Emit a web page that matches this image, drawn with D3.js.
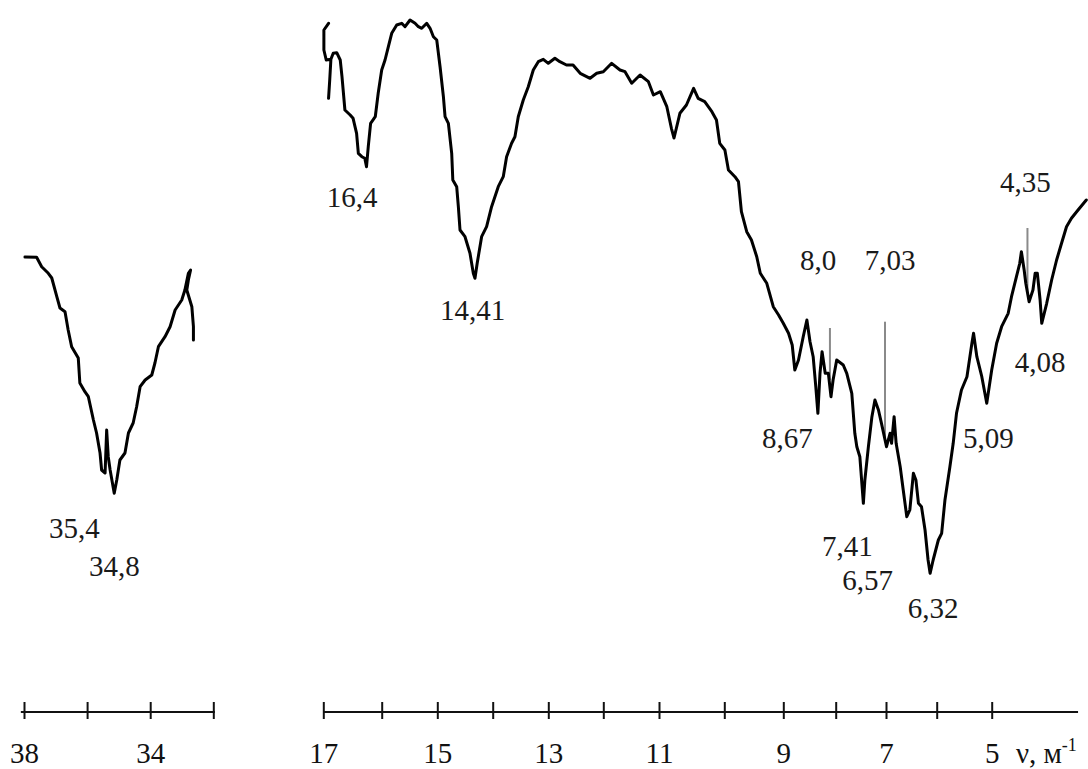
<!DOCTYPE html>
<html>
<head>
<meta charset="utf-8">
<script src="https://cdn.jsdelivr.net/npm/d3@7"></script>
<style>
  html, body { margin: 0; padding: 0; background: #fff; }
  svg { display: block; }
</style>
</head>
<body>
<svg width="1088" height="769"></svg>
<script>
// spectrum: [wavenumber ν, transmittance (arb. units)]
const leftSpectrum = [
  [37.97, 34.3], [37.60, 34.27], [37.44, 33.33], [37.23, 32.67], [37.12, 32.2],
  [36.96, 30.33], [36.86, 29.2], [36.70, 28.83], [36.60, 27.0], [36.49, 25.33],
  [36.28, 24.2], [36.23, 21.7], [36.07, 20.83], [35.96, 20.33], [35.80, 18.0],
  [35.70, 16.7], [35.59, 14.7], [35.54, 13.0], [35.43, 12.7], [35.38, 17.0],
  [35.33, 14.33], [35.27, 13.0], [35.14, 10.67], [35.06, 12.0], [34.96, 14.0],
  [34.80, 14.7], [34.69, 16.7], [34.54, 17.7], [34.43, 19.33], [34.32, 21.33],
  [34.16, 22.0], [33.95, 22.5], [33.85, 23.7], [33.74, 25.33], [33.53, 26.33],
  [33.37, 27.33], [33.21, 29.0], [33.00, 30.0], [32.90, 31.0], [32.79, 32.67],
  [32.72, 33.0], [32.79, 32.0], [32.84, 31.0], [32.68, 29.33], [32.63, 27.33],
  [32.63, 26.0]
];

const rightSpectrum = [
  [16.91, 57.67], [16.99, 57.0], [16.99, 55.0], [16.95, 54.0], [16.87, 54.07],
  [16.89, 52.0], [16.91, 50.17], [16.89, 52.0], [16.87, 54.07], [16.83, 54.67],
  [16.77, 54.73], [16.71, 54.0], [16.68, 52.33], [16.63, 49.0], [16.54, 48.5],
  [16.49, 48.17], [16.43, 46.67], [16.40, 44.67], [16.34, 44.33], [16.29, 44.17],
  [16.26, 43.33], [16.23, 45.33], [16.19, 47.67], [16.11, 48.33], [16.06, 50.67],
  [16.00, 53.0], [15.94, 54.0], [15.88, 55.33], [15.82, 56.67], [15.73, 57.5],
  [15.64, 57.67], [15.58, 57.33], [15.49, 58.0], [15.40, 57.67], [15.34, 57.33],
  [15.28, 57.17], [15.19, 57.67], [15.13, 57.17], [15.07, 56.33], [15.01, 56.0],
  [14.95, 53.33], [14.89, 50.33], [14.86, 48.33], [14.80, 47.67], [14.74, 44.67],
  [14.72, 42.0], [14.65, 41.33], [14.62, 39.33], [14.59, 37.0], [14.50, 36.33],
  [14.41, 34.67], [14.35, 32.67], [14.32, 32.17], [14.28, 33.67], [14.20, 36.33],
  [14.11, 37.33], [14.02, 39.33], [13.90, 41.33], [13.81, 42.33], [13.75, 44.33],
  [13.66, 45.67], [13.60, 46.33], [13.54, 48.33], [13.45, 50.0], [13.36, 51.33],
  [13.27, 53.0], [13.18, 53.83], [13.09, 54.07], [13.00, 53.67], [12.88, 54.17],
  [12.79, 53.83], [12.67, 53.5], [12.55, 53.5], [12.42, 52.67], [12.24, 52.17],
  [12.12, 52.67], [12.00, 52.83], [11.85, 53.67], [11.70, 53.0], [11.61, 52.83],
  [11.49, 51.67], [11.34, 52.5], [11.19, 51.83], [11.10, 50.5], [10.98, 50.83],
  [10.88, 49.33], [10.81, 47.17], [10.77, 46.2], [10.68, 48.67], [10.58, 49.5],
  [10.47, 51.17], [10.40, 50.17], [10.30, 49.83], [10.19, 48.83], [10.12, 48.0],
  [10.07, 45.67], [9.99, 45.0], [9.93, 43.0], [9.82, 42.33], [9.76, 41.83],
  [9.71, 38.83], [9.62, 36.83], [9.54, 36.0], [9.45, 34.33], [9.39, 32.67],
  [9.28, 31.67], [9.17, 29.33], [9.08, 28.5], [9.00, 27.67], [8.90, 26.67],
  [8.83, 25.5], [8.78, 23.0], [8.71, 24.0], [8.62, 26.33], [8.55, 28.0],
  [8.49, 25.83], [8.43, 24.33], [8.38, 21.33], [8.34, 18.67], [8.30, 22.67],
  [8.26, 24.83], [8.20, 22.67], [8.14, 22.67], [8.09, 20.33], [8.05, 22.0],
  [7.98, 24.0], [7.85, 23.5], [7.78, 22.67], [7.68, 20.67], [7.62, 16.67],
  [7.58, 15.33], [7.52, 14.33], [7.45, 9.67], [7.42, 12.0], [7.35, 15.33],
  [7.28, 18.33], [7.22, 20.0], [7.15, 19.0], [7.09, 17.67], [6.99, 15.33],
  [6.92, 16.67], [6.89, 15.67], [6.84, 18.33], [6.80, 15.67], [6.72, 13.33],
  [6.66, 11.0], [6.59, 8.33], [6.53, 9.0], [6.46, 12.67], [6.41, 12.0],
  [6.36, 9.67], [6.30, 9.33], [6.23, 7.0], [6.17, 4.0], [6.13, 2.67],
  [6.07, 4.0], [5.97, 6.0], [5.91, 6.67], [5.85, 10.0], [5.76, 13.33],
  [5.70, 15.67], [5.64, 18.67], [5.55, 21.0], [5.45, 22.33], [5.36, 25.67],
  [5.33, 26.67], [5.27, 24.33], [5.18, 22.33], [5.09, 19.67], [5.00, 23.0],
  [4.91, 25.67], [4.82, 27.33], [4.70, 28.67], [4.64, 30.33], [4.55, 32.33],
  [4.49, 33.67], [4.46, 34.83], [4.41, 33.0], [4.38, 31.67], [4.32, 29.83],
  [4.25, 31.0], [4.21, 32.67], [4.17, 32.67], [4.12, 30.0], [4.09, 27.67],
  [4.00, 29.67], [3.91, 32.0], [3.82, 34.0], [3.73, 35.67], [3.64, 37.33],
  [3.55, 38.17], [3.43, 39.0], [3.28, 40.0]
];

// axis ticks
const leftTicks = [38, 36, 34, 32];
const leftTickLabels = ["38", "", "34", ""];
const rightTicks = [17, 16, 15, 14, 13, 12, 11, 10, 9, 8, 7, 6, 5];
const rightTickLabels = ["17", "", "15", "", "13", "", "11", "", "9", "", "7", "", "5"];

// thin grey marker lines: [ν, top, bottom]
const markers = [[8.11, 27.2, 22.0], [7.02, 27.83, 16.0], [4.35, 37.2, 30.7]];

// band labels: [text, ν of left edge, baseline level]
const leftLabels = [["35,4", 37.21, 6.2], ["34,8", 35.94, 2.4]];
const rightLabels = [
  ["16,4", 16.94, 39.3], ["14,41", 14.95, 28.0], ["8,0", 8.68, 33.0],
  ["7,03", 7.42, 33.0], ["4,35", 4.85, 40.8], ["4,08", 4.58, 22.8],
  ["8,67", 9.36, 15.2], ["5,09", 5.52, 15.2], ["7,41", 8.26, 4.4],
  ["6,57", 7.87, 1.0], ["6,32", 6.57, -1.8]
];

const ink = "#111";
const serif = "'Liberation Serif', 'Times New Roman', serif";
const svg = d3.select("svg");

const y = d3.scaleLinear().domain([0, 60]).range([600, 0]);
const xLeft = d3.scaleLinear().domain([38, 32]).range([24, 213.3]);
// the hand-drawn axis has uneven tick spacing
const xRight = d3.scaleLinear()
  .domain(rightTicks)
  .range([323.3, 381.7, 437.3, 492.7, 548.3, 603.3, 659, 724.3, 783.3, 835.7, 886, 936.7, 991.7]);

const axisY = 712;

const drawAxis = (scale, ticks, labels, extent) => {
  const g = svg.append("g")
    .attr("transform", `translate(0,${axisY})`)
    .call(d3.axisBottom(scale).tickValues(ticks).tickSize(0).tickFormat((d, i) => labels[i]));
  g.select(".domain").remove();
  g.append("line")
    .attr("x1", scale(extent[0]))
    .attr("x2", scale(extent[1]))
    .attr("stroke", ink)
    .attr("stroke-width", 2);
  g.selectAll(".tick line")
    .attr("y1", -10)
    .attr("y2", 7)
    .attr("stroke", ink)
    .attr("stroke-width", 2);
  g.selectAll(".tick text")
    .attr("y", 51)
    .attr("dy", 0)
    .attr("font-family", serif)
    .attr("font-size", 29)
    .attr("fill", ink);
  return g;
};

drawAxis(xLeft, leftTicks, leftTickLabels, [38.1, 31.95]);
drawAxis(xRight, rightTicks, rightTickLabels, [17, 3.43]);

// units label
const unit = svg.append("text")
  .attr("x", xRight(4.56))
  .attr("y", axisY + 51)
  .attr("font-family", serif)
  .attr("font-size", 29)
  .attr("fill", ink)
  .text("ν, м");
unit.append("tspan")
  .attr("dy", -12)
  .attr("font-size", 18)
  .text("-1");

// grey markers
svg.selectAll("line.marker")
  .data(markers)
  .enter()
  .append("line")
  .attr("class", "marker")
  .attr("x1", d => xRight(d[0]))
  .attr("x2", d => xRight(d[0]))
  .attr("y1", d => y(d[1]))
  .attr("y2", d => y(d[2]))
  .attr("stroke", "#8a8a8a")
  .attr("stroke-width", 2);

// spectrum curves
const curve = scale => d3.line().x(d => scale(d[0])).y(d => y(d[1]));

[[leftSpectrum, xLeft], [rightSpectrum, xRight]].forEach(([data, scale]) => {
  svg.append("path")
    .datum(data)
    .attr("d", curve(scale))
    .attr("fill", "none")
    .attr("stroke", "#000")
    .attr("stroke-width", 3)
    .attr("stroke-linejoin", "round")
    .attr("stroke-linecap", "round");
});

// band labels
[[leftLabels, xLeft], [rightLabels, xRight]].forEach(([labels, scale]) => {
  svg.selectAll(null)
    .data(labels)
    .enter()
    .append("text")
    .attr("x", d => scale(d[1]))
    .attr("y", d => y(d[2]))
    .attr("font-family", serif)
    .attr("font-size", 29)
    .attr("fill", "#1a1a1a")
    .text(d => d[0]);
});
</script>
</body>
</html>
